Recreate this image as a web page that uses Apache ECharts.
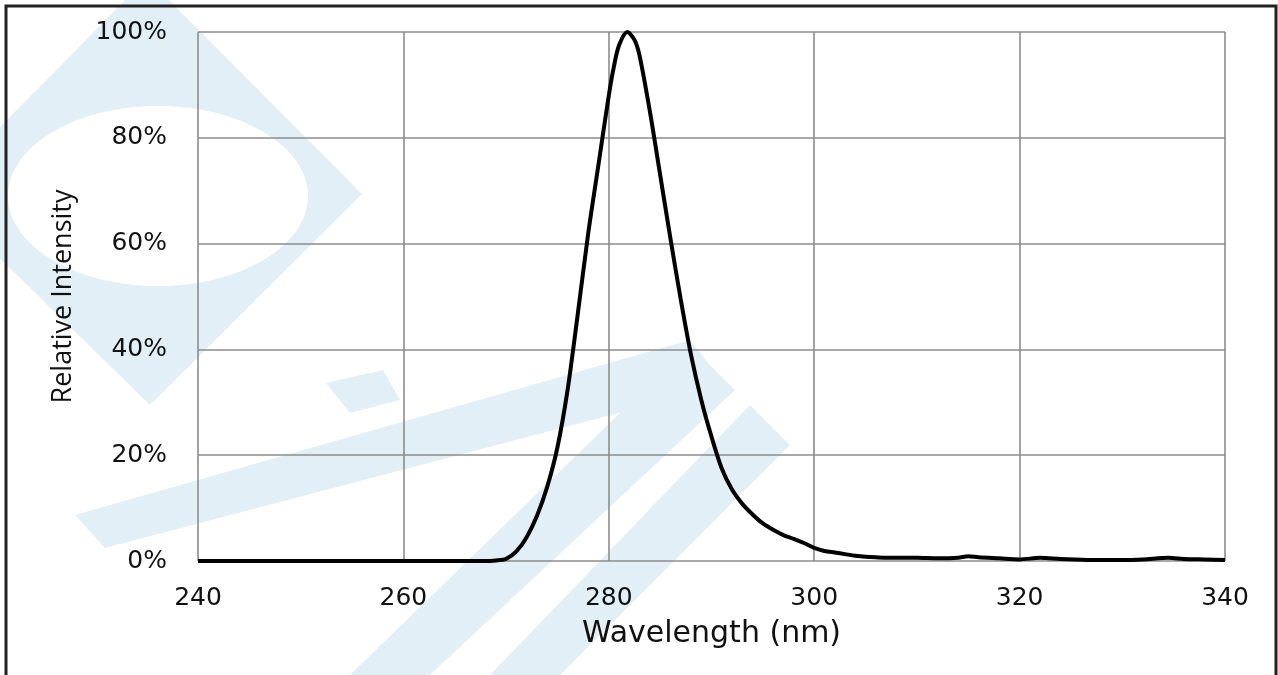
<!DOCTYPE html>
<html>
<head>
<meta charset="utf-8">
<script src="https://cdn.jsdelivr.net/npm/echarts@6/dist/echarts.min.js"></script>
<style>
html,body{margin:0;padding:0;background:#fff;}
#chart{width:1278px;height:675px;}
</style>
</head>
<body>
<div id="chart"></div>
<script>
// Data
var wavelengths = [240, 250, 260, 268, 269, 270, 271, 272, 273, 274, 275, 276, 277, 278, 279, 280, 280.5, 281, 281.8, 282.5, 283, 284, 285, 286, 287, 288, 289, 290, 291, 292, 293, 294, 295, 296, 297, 298, 299, 300, 301, 302, 303, 304, 305, 306, 308, 310, 312, 314, 315, 316, 318, 320, 322, 324, 327, 330, 332, 334.5, 336, 338, 340];
var intensity   = [0, 0, 0, 0, 0.1, 0.4, 1.8, 4.5, 8.5, 14, 21.5, 32.5, 47, 62, 75, 88, 93.5, 97.5, 100, 98.5, 95.5, 85, 73, 61, 49.5, 39, 30.5, 23.5, 17.5, 13.5, 10.8, 8.8, 7.1, 5.9, 4.9, 4.2, 3.4, 2.5, 1.9, 1.6, 1.3, 1.0, 0.8, 0.7, 0.6, 0.6, 0.5, 0.6, 0.9, 0.7, 0.5, 0.3, 0.6, 0.4, 0.2, 0.2, 0.3, 0.6, 0.4, 0.3, 0.2];
var xAxisTitle = 'Wavelength (nm)';
var yAxisTitle = 'Relative Intensity';

var seriesData = wavelengths.map(function (w, i) { return [w, intensity[i]]; });

var wm = '#e3eff7';
var chart = echarts.init(document.getElementById('chart'));
chart.setOption({
  backgroundColor: '#ffffff',
  animation: false,
  grid: { left: 198, right: 53, top: 32, bottom: 114 },
  graphic: [
    { type: 'polygon', z: -100, silent: true, shape: { points: [[147,-22],[362,194],[150,405],[-66,194]] }, style: { fill: wm } },
    { type: 'ellipse', z: -99, silent: true, shape: { cx: 158, cy: 196, rx: 150, ry: 90 }, style: { fill: '#ffffff' } },
    { type: 'polygon', z: -100, silent: true, shape: { points: [[75,515],[690,340],[725,385],[105,548]] }, style: { fill: wm } },
    { type: 'polygon', z: -100, silent: true, shape: { points: [[326,383],[383,370],[400,400],[350,413]] }, style: { fill: wm } },
    { type: 'polygon', z: -100, silent: true, shape: { points: [[690,345],[735,390],[430,675],[350,675]] }, style: { fill: wm } },
    { type: 'polygon', z: -100, silent: true, shape: { points: [[750,405],[790,445],[560,675],[490,675]] }, style: { fill: wm } },
    { type: 'rect', z: 100, silent: true, shape: { x: 6, y: 6, width: 1270, height: 740 }, style: { fill: 'none', stroke: '#222', lineWidth: 3 } }
  ],
  xAxis: {
    type: 'value',
    min: 240, max: 340, interval: 20,
    name: xAxisTitle,
    nameLocation: 'middle',
    nameGap: 58,
    nameTextStyle: { fontFamily: 'DejaVu Sans', fontSize: 30, color: '#111' },
    axisLine: { show: false },
    axisTick: { show: false },
    axisLabel: { margin: 25, fontFamily: 'DejaVu Sans', fontSize: 25, color: '#111' },
    splitLine: { show: true, lineStyle: { color: '#8c8c8c', width: 1.6 } }
  },
  yAxis: {
    type: 'value',
    min: 0, max: 100, interval: 20,
    name: yAxisTitle,
    nameLocation: 'middle',
    nameGap: 121,
    nameRotate: 90,
    nameTextStyle: { fontFamily: 'Open Sans', fontSize: 27, color: '#111' },
    axisLine: { show: false },
    axisTick: { show: false },
    axisLabel: { margin: 31, fontFamily: 'DejaVu Sans', fontSize: 25, color: '#111', formatter: '{value}%' },
    splitLine: { show: true, lineStyle: { color: '#8c8c8c', width: 1.6 } }
  },
  series: [{
    type: 'line',
    data: seriesData,
    smooth: 0.3,
    showSymbol: false,
    lineStyle: { color: '#000', width: 4 },
    z: 5
  }]
});
</script>
</body>
</html>
